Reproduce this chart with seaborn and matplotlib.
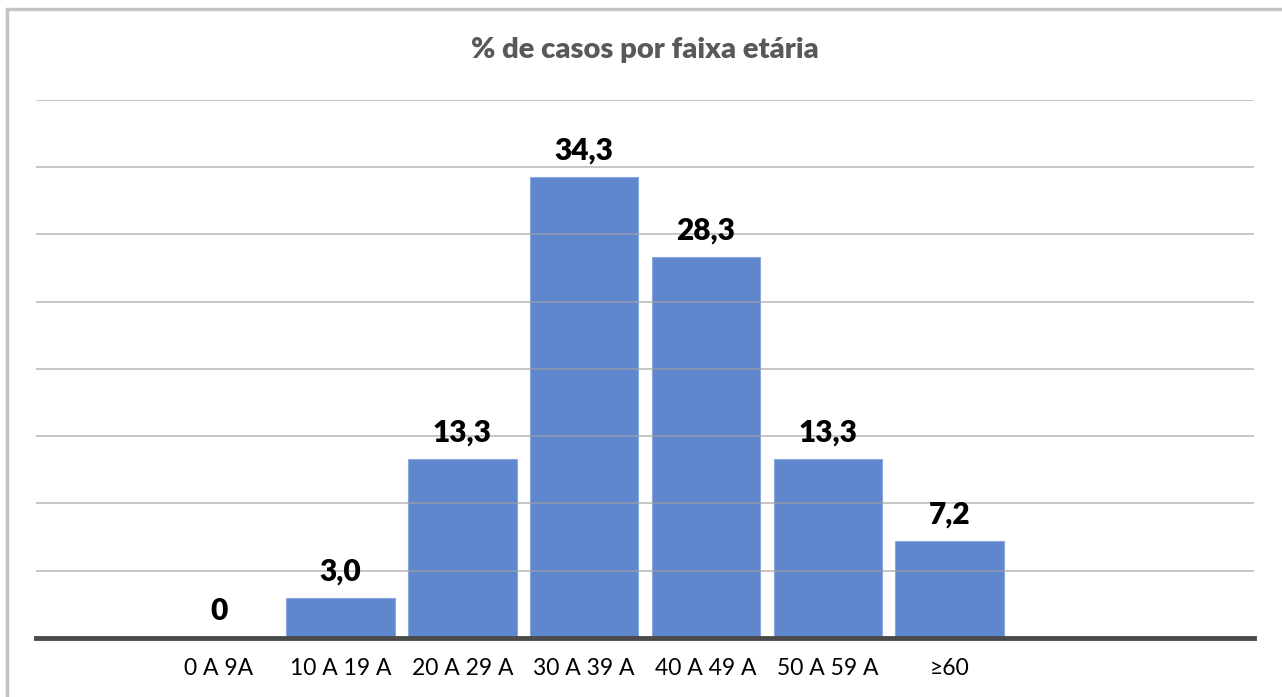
import matplotlib
matplotlib.use('Agg')
import matplotlib.pyplot as plt
import seaborn as sns
import pandas as pd
from matplotlib.patches import Rectangle

# Data
categories = ['0 A 9A', '10 A 19 A', '20 A 29 A', '30 A 39 A', '40 A 49 A', '50 A 59 A', '≥60']
values = [0, 3.0, 13.3, 34.3, 28.3, 13.3, 7.2]
value_labels = ['0', '3,0', '13,3', '34,3', '28,3', '13,3', '7,2']
title = '% de casos por faixa etária'

df = pd.DataFrame({'faixa': categories, 'pct': values})

sns.set_style('white')
plt.rcParams['font.family'] = ['Lato', 'DejaVu Sans']

fig = plt.figure(figsize=(12.82, 6.97), dpi=100)
ax = fig.add_axes([0.0281, 0.0847, 0.9501, 0.7719])

# outer chart frame (partially cut off in the reference)
fig.patches.append(Rectangle((7 / 1282, -0.05), 1.2, 1 - 9 / 697 + 0.05,
                             transform=fig.transFigure, fill=False,
                             edgecolor='#c4c4c4', linewidth=2.5))

sns.barplot(data=df, x='faixa', y='pct', color='#5f87cd', saturation=1,
            width=0.89, edgecolor='#8aa8dc', linewidth=0.8, ax=ax, zorder=2)

ax.set_xlim(-1.5, 8.5)
ax.set_ylim(0, 40)
ax.set_yticks(range(0, 41, 5))
ax.yaxis.grid(True, color='#a0a0a0', linewidth=1.2, alpha=0.7, zorder=3)
ax.set_axisbelow(False)
ax.tick_params(axis='y', left=False, labelleft=False)
ax.tick_params(axis='x', bottom=False, labelsize=16.5, pad=11, colors='black')
ax.set_xlabel('')
ax.set_ylabel('')

for s in ['top', 'right', 'left']:
    ax.spines[s].set_visible(False)
ax.spines['bottom'].set_color('#4a4a4a')
ax.spines['bottom'].set_linewidth(3.5)
ax.spines['bottom'].set_zorder(4)

for i, (v, lab) in enumerate(zip(values, value_labels)):
    ax.annotate(lab, (i, v), xytext=(0, 9), textcoords='offset points',
                ha='center', va='bottom', fontsize=21.5, fontweight='heavy',
                color='black')

fig.text(0.503, 1 - 50 / 697, title, ha='center', va='center',
         fontsize=21, fontweight='heavy', color='#595959')

fig.savefig('out.png', dpi=100)
